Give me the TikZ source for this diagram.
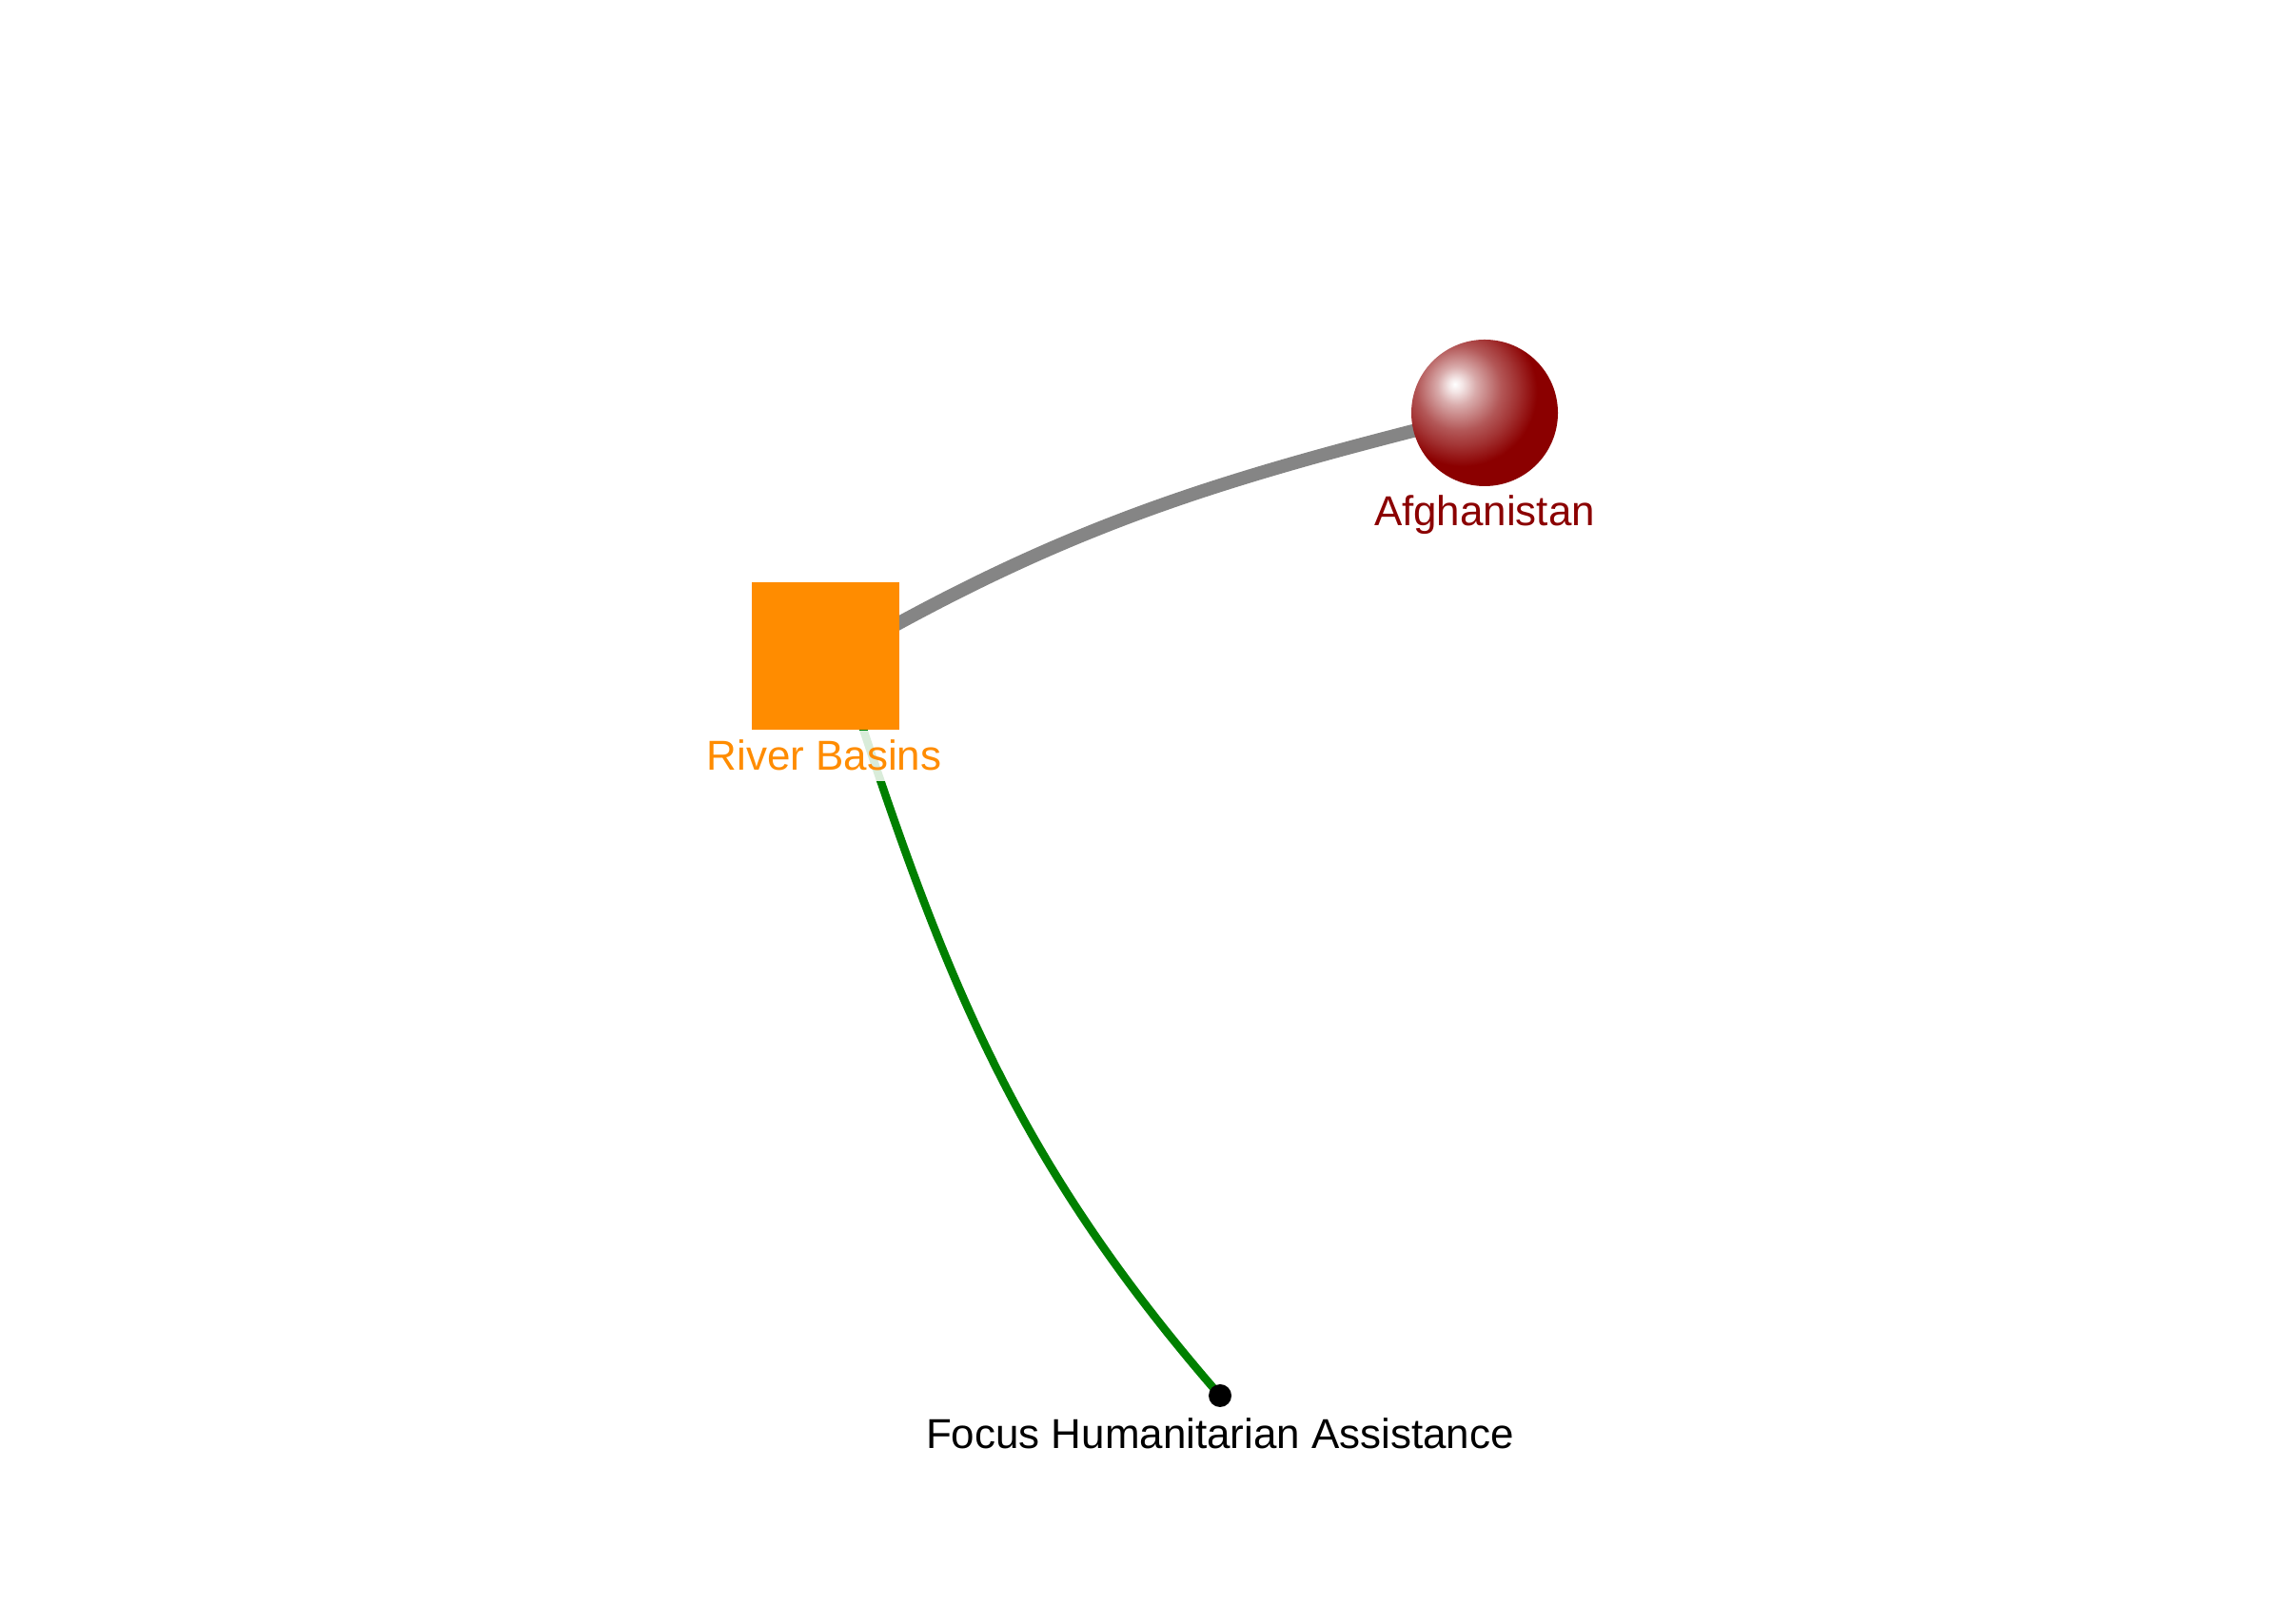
\documentclass[tikz,border=0pt]{standalone}
\usepackage{fontspec}
\setmainfont{Liberation Sans}
\usetikzlibrary{backgrounds}
\definecolor{afred}{HTML}{8B0000}
\definecolor{rborange}{HTML}{FF8C00}
\definecolor{edgegray}{HTML}{858585}
\definecolor{edgegreen}{HTML}{008000}
\pgfdeclareradialshading{redball}{\pgfpoint{-10.2bp}{9.8bp}}{%
  color(0bp)=(white); color(2.4bp)=(afred!10!white); color(6.6bp)=(afred!33!white);
  color(14.4bp)=(afred!66!white); color(19.2bp)=(afred!80!white); color(25.5bp)=(afred);
  color(100bp)=(afred)}
\begin{document}
\begin{tikzpicture}[
    lbl/.style={font=\fontsize{12.5}{15}\selectfont, fill=white, fill opacity=0.85,
                text opacity=1, inner xsep=1pt, inner ysep=3pt, anchor=base}
]
    \useasboundingbox (0,0) rectangle (24,17.07);

    % 标签
    \node[lbl, text=afred] (aflbl) at (15.60,11.54) {Afghanistan};
    \node[lbl, text=rborange] (rblbl) at (8.66,8.97) {River Basins};
    \node[lbl, text=black] (fhalbl) at (12.82,1.84) {Focus Humanitarian Assistance};

    % Afghanistan
    \node[circle, minimum size=1.54cm, inner sep=0pt, shading=redball] (af) at (15.60,12.73) {};

    % River Basins
    \node[rectangle, fill=rborange, minimum size=1.55cm, inner sep=0pt] (rb) at (8.67,10.17) {};

    % Focus Humanitarian Assistance
    \node[circle, fill=black, minimum size=0.24cm, inner sep=0pt] (fha) at (12.82,2.40) {};

    % 连线
    \begin{pgfonlayer}{background}
        \draw[line width=0.14cm, edgegray] ([xshift=1.5mm]rb.center) to[out=30, in=-166] (af.center);
        \draw[line width=0.085cm, edgegreen] ([xshift=1.5mm]rb.center) to[out=-72, in=131] (fha.center);
    \end{pgfonlayer}
\end{tikzpicture}
\end{document}
